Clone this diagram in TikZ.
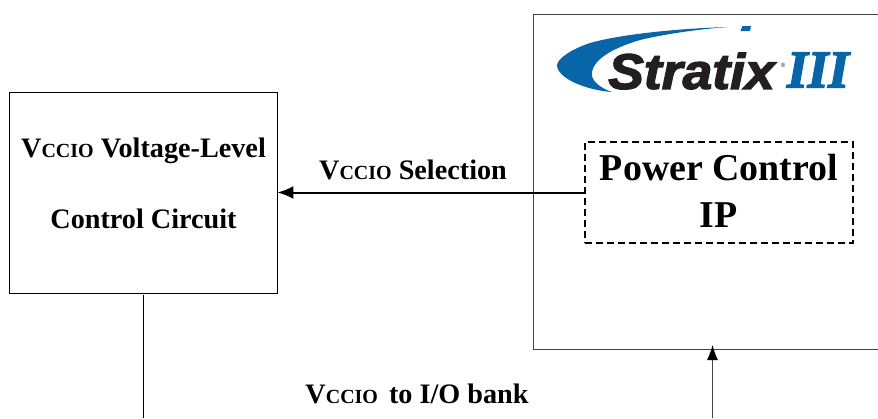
\documentclass[tikz,border=0pt]{standalone}
\usepackage{fontspec}
\setmainfont{Liberation Serif}
\newfontfamily\logosans[BoldItalicFont={Liberation Sans Bold Italic},BoldItalicFeatures={FakeBold=2.5}]{Liberation Sans}
\newfontfamily\logoserif[BoldItalicFont={Liberation Serif Bold Italic},BoldItalicFeatures={FakeBold=3}]{Liberation Serif}
\usetikzlibrary{arrows.meta}
\definecolor{logoblue}{HTML}{0866A8}
\definecolor{logoblack}{HTML}{231F20}
\definecolor{boxgray}{HTML}{444444}
\newcommand{\vccio}{V{\fontsize{20}{24}\selectfont CCIO}}
\tikzset{
  lbl/.style={font=\fontsize{28.2}{34}\selectfont\bfseries, text=black, inner sep=0pt, align=center},
  biglbl/.style={font=\fontsize{37.9}{46}\selectfont\bfseries, text=black, inner sep=0pt, align=center}
}
\begin{document}
\begin{tikzpicture}[x=1pt,y=-1pt]
\useasboundingbox (0,0) rectangle (878,418);
\fill[white] (0,0) rectangle (878,418);
% outer device box (runs off the right edge)
\coordinate (devtr) at (878,14);
\coordinate (devtl) at (533,14);
\coordinate (devbl) at (533,349);
\coordinate (devbr) at (878,349);
\draw[boxgray, line width=0.8pt] (devtr) -- (devtl) -- (devbl) -- (devbr);
% left box
\node[draw=black, line width=0.9pt, minimum width=268pt, minimum height=201pt, inner sep=0pt] (ctrl) at (143,192.5) {};
\node[lbl] (ctrlA) at (143.5,151) {\vccio{} Voltage-Level};
\node[lbl] (ctrlB) at (143.5,219) {Control Circuit};
% power control IP
\node[draw=black, dash pattern=on 7pt off 4pt, line width=1.7pt, minimum width=268pt, minimum height=101pt, inner sep=0pt] (ip) at (719,192.5) {};
\node[biglbl] (ipA) at (719,168) {Power Control};
\node[biglbl] (ipB) at (718.5,215) {IP};
% connectors
\draw[line width=2pt, -{Latex[length=16pt,width=13pt]}] (ip.west) -- (ctrl.east);
\node[lbl] (sel) at (413,170) {\vccio{} Selection};
\coordinate (lineend) at (143,418);
\coordinate (ctrlout) at (143,295);
\draw[black, line width=1pt] (ctrlout) -- (lineend);
\coordinate (arrowstart) at (712.5,418);
\coordinate (arrowtip) at (712.5,345);
\draw[boxgray, line width=1pt, -{Latex[length=15pt,width=11pt,black]}] (arrowstart) -- (arrowtip);
\node[lbl] (bank) at (417,393.5) {\vccio{}\hspace{11pt}to I/O bank};
% logo
\fill[logoblue] (728,27) .. controls (690,28) and (625,33) .. (590,43)
   .. controls (572,49) and (558,58) .. (557,65)
   .. controls (557,78) and (585,90) .. (612,92)
   .. controls (600,88) and (590,80) .. (592,72)
   .. controls (594,60) and (610,49) .. (640,40)
   .. controls (665,34) and (700,29) .. (728,27) -- cycle;
\fill[logoblue] (742.5,26) -- (751,26) -- (750,31) -- (740.5,31) -- cycle;
\node[text=logoblack, inner sep=0pt, anchor=center, font=\logosans\bfseries\itshape\fontsize{50}{60}\selectfont, xscale=1.07] (logotext) at (691.5,71) {Stratix};
\node[text=logoblack, inner sep=0pt, font=\logosans\fontsize{6}{7}\selectfont] (logoreg) at (783,65) {®};
\node[text=logoblue, inner sep=0pt, font=\logoserif\bfseries\itshape\fontsize{53}{60}\selectfont] (logoiii) at (818,70) {III};
\end{tikzpicture}
\end{document}
